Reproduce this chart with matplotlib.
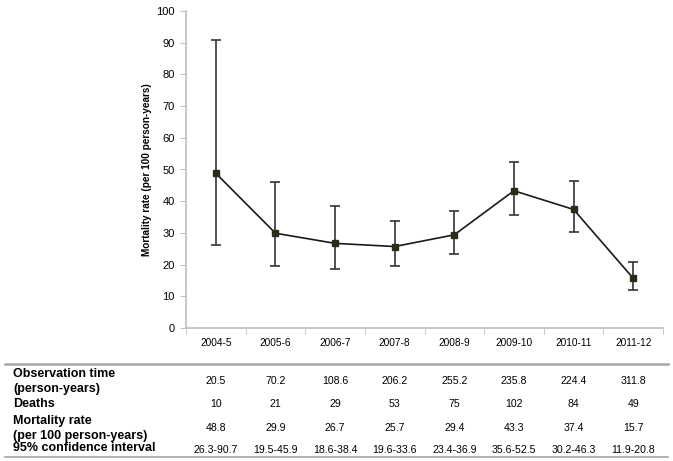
import matplotlib
matplotlib.use("Agg")
import matplotlib.pyplot as plt
from matplotlib.lines import Line2D

periods = ["2004-5", "2005-6", "2006-7", "2007-8", "2008-9", "2009-10", "2010-11", "2011-12"]
obs_time = ["20.5", "70.2", "108.6", "206.2", "255.2", "235.8", "224.4", "311.8"]
deaths = ["10", "21", "29", "53", "75", "102", "84", "49"]
rate = [48.8, 29.9, 26.7, 25.7, 29.4, 43.3, 37.4, 15.7]
ci_low = [26.3, 19.5, 18.6, 19.6, 23.4, 35.6, 30.2, 11.9]
ci_high = [90.7, 45.9, 38.4, 33.6, 36.9, 52.5, 46.3, 20.8]
row_labels = [["Observation time", "(person-years)"], ["Deaths"],
              ["Mortality rate", "(per 100 person-years)"], ["95% confidence interval"]]

W, H = 673, 461
plt.rcParams['font.family'] = ['Liberation Sans', 'DejaVu Sans']
fig = plt.figure(figsize=(W / 100, H / 100), dpi=100)

ax = fig.add_axes([186 / W, 1 - 328 / H, (663 - 186) / W, (328 - 11) / H])
x = list(range(len(periods)))
yerr = [[r - l for r, l in zip(rate, ci_low)], [h - r for r, h in zip(rate, ci_high)]]
ax.errorbar(x, rate, yerr=yerr, fmt='none', ecolor='#333333', elinewidth=1.2,
            capsize=3.5, capthick=1.2, zorder=2)
ax.plot(x, rate, color='#1a1a1a', lw=1.2, marker='s', ms=4.5,
        mfc='#2b2b1a', mec='#2b2b1a', zorder=3)

ax.set_xlim(-0.5, len(periods) - 0.5)
ax.set_ylim(0, 100)
ax.set_yticks(range(0, 101, 10))
ax.set_xticks(x)
ax.set_xticklabels(periods, fontsize=7.3)
ax.set_xticks([i - 0.5 for i in range(len(periods) + 1)], minor=True)
ax.tick_params(axis='x', which='major', length=0, pad=7)
ax.tick_params(axis='x', which='minor', length=4, color='#bfbfbf', direction='out')
ax.tick_params(axis='y', labelsize=8, length=4, color='#bfbfbf', pad=4)
for s in ['top', 'right']:
    ax.spines[s].set_visible(False)
for s in ['left', 'bottom']:
    ax.spines[s].set_color('#bfbfbf')
    ax.spines[s].set_linewidth(1.2)
ax.set_ylabel("Mortality rate (per 100 person-years)", fontsize=7.2, fontweight='bold', labelpad=3)

# Table
fig.add_artist(Line2D([5 / W, 668 / W], [1 - 364 / H, 1 - 364 / H], color='#a6a6a6', lw=1.8))
fig.add_artist(Line2D([5 / W, 668 / W], [1 - 457 / H, 1 - 457 / H], color='#a6a6a6', lw=1.2))
label_base = [[376.5, 392], [407], [424, 438.5], [451]]
for lines, ys in zip(row_labels, label_base):
    for lab, yy in zip(lines, ys):
        fig.text(13 / W, 1 - yy / H, lab, fontsize=9, fontweight='bold', va='baseline', ha='left')
row_base = [383.5, 406.5, 430.5, 452.5]
cols = [obs_time, deaths, [f"{v:.1f}" for v in rate],
        [f"{l:.1f}-{h:.1f}" for l, h in zip(ci_low, ci_high)]]
for vals, yy in zip(cols, row_base):
    for i, v in enumerate(vals):
        xd = ax.transData.transform((i, 0))[0]
        fig.text(xd / W, 1 - yy / H, v, fontsize=7.6, va='baseline', ha='center')

fig.savefig("out.png", dpi=100)
